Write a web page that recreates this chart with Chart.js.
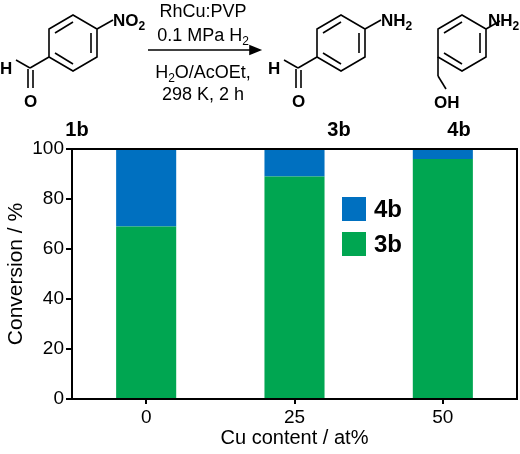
<!DOCTYPE html>
<html><head><meta charset="utf-8">
<script src="https://cdn.jsdelivr.net/npm/chart.js@4/dist/chart.umd.min.js"></script>
<style>
html,body{margin:0;padding:0;background:#fff;}
#wrap{position:relative;width:520px;height:454px;font-family:"Liberation Sans",Arial,sans-serif;}
#c{position:absolute;left:0;top:0;}
svg{position:absolute;left:0;top:0;}
.leg{position:absolute;font-weight:bold;font-size:24px;display:flex;align-items:center;}
.leg span{display:inline-block;width:24px;height:24px;margin-right:8px;}
</style></head>
<body><div id="wrap">
<canvas id="c" width="520" height="454"></canvas>
<svg width="520" height="140" font-family="Liberation Sans, Arial, sans-serif" stroke="#000" stroke-width="1.6" fill="none">
  <!-- 1b -->
  <polygon points="73,15 97,29 97,57 73,71 49,57 49,29"/>
  <line x1="55" y1="33" x2="73" y2="22"/><line x1="91" y1="33" x2="91" y2="53"/><line x1="73" y1="64" x2="55" y2="53"/>
  <line x1="97" y1="29" x2="113" y2="20"/>
  <line x1="49" y1="57" x2="30" y2="68"/><line x1="30" y1="68" x2="16" y2="60"/>
  <line x1="28" y1="69" x2="28" y2="88"/><line x1="33" y1="70" x2="33" y2="88"/>
  <!-- arrow -->
  <line x1="148" y1="50" x2="252" y2="50"/><polygon points="260,50 250,46 250,54" fill="#000"/>
  <!-- 3b -->
  <polygon points="341,15 365,29 365,57 341,71 317,57 317,29"/>
  <line x1="323" y1="33" x2="341" y2="22"/><line x1="359" y1="33" x2="359" y2="53"/><line x1="341" y1="64" x2="323" y2="53"/>
  <line x1="365" y1="29" x2="381" y2="20"/>
  <line x1="317" y1="57" x2="298" y2="68"/><line x1="298" y1="68" x2="284" y2="60"/>
  <line x1="296" y1="69" x2="296" y2="88"/><line x1="301" y1="70" x2="301" y2="88"/>
  <!-- 4b -->
  <polygon points="462,15 486,29 486,57 462,71 438,57 438,29"/>
  <line x1="444" y1="33" x2="462" y2="22"/><line x1="480" y1="33" x2="480" y2="53"/><line x1="462" y1="64" x2="444" y2="53"/>
  <line x1="486" y1="29" x2="500" y2="21"/>
  <line x1="438" y1="57" x2="438" y2="76"/><line x1="438" y1="76" x2="446" y2="89"/>
  <g stroke="none" fill="#000" font-size="18">
    <text x="203" y="17" text-anchor="middle">RhCu:PVP</text>
    <text x="203" y="41" text-anchor="middle">0.1 MPa H<tspan font-size="12" dy="4">2</tspan></text>
    <text x="203" y="78" text-anchor="middle">H<tspan font-size="12" dy="4">2</tspan><tspan dy="-4">O/AcOEt,</tspan></text>
    <text x="203" y="100" text-anchor="middle">298 K, 2 h</text>
  </g>
  <g stroke="none" fill="#000" font-size="17" font-weight="bold">
    <text x="113" y="26">NO<tspan font-size="12" dy="4">2</tspan></text>
    <text x="0" y="74">H</text><text x="24" y="107">O</text>
    <text x="381" y="26">NH<tspan font-size="12" dy="4">2</tspan></text>
    <text x="268" y="74">H</text><text x="292" y="107">O</text>
    <text x="488" y="26">NH<tspan font-size="12" dy="4">2</tspan></text>
    <text x="434" y="108">OH</text>
    <g font-size="20"><text x="77" y="136" text-anchor="middle">1b</text>
    <text x="339" y="136" text-anchor="middle">3b</text>
    <text x="459" y="136" text-anchor="middle">4b</text></g>
  </g>
</svg>
<div class="leg" style="left:342px;top:195px;"><span style="background:#0070C0"></span>4b</div>
<div class="leg" style="left:342px;top:230px;"><span style="background:#00A651"></span>3b</div>
</div>
<script>
const categories = ["0", "25", "50"];
const values3b = [69, 89, 96];
const values4b = [31, 11, 4];
const yTicks = [0, 20, 40, 60, 80, 100];

const frame = {id:'frame', afterDraw(ch){const a=ch.chartArea,c=ch.ctx;c.save();c.strokeStyle='#000';c.lineWidth=2;c.strokeRect(a.left,a.top,a.right-a.left,a.bottom-a.top);c.restore();}};
new Chart(document.getElementById('c'), {
  type:'bar',
  data:{labels:categories, datasets:[
    {label:'3b', data:values3b, backgroundColor:'#00A651', barPercentage:0.81, categoryPercentage:0.5},
    {label:'4b', data:values4b, backgroundColor:'#0070C0', barPercentage:0.81, categoryPercentage:0.5}
  ]},
  options:{
    responsive:false, animation:false, devicePixelRatio:1,
    layout:{padding:{top:149,right:3,left:0,bottom:0}},
    plugins:{legend:{display:false}, tooltip:{enabled:false}},
    scales:{
      x:{stacked:true,
        afterFit(s){s.height=55;},
        grid:{display:true,drawOnChartArea:false,offset:false,tickLength:5,color:'#000',lineWidth:2},
        border:{color:'#000',width:2},
        ticks:{color:'#000',font:{size:19,family:'Liberation Sans'},padding:2},
        title:{display:true,text:'Cu content / at%',color:'#000',font:{size:20,family:'Liberation Sans'},padding:{top:0}}},
      y:{stacked:true,min:0,max:100,
        afterFit(s){s.width=72;},
        afterBuildTicks(s){s.ticks=yTicks.map(v=>({value:v}));},
        grid:{drawOnChartArea:false,tickLength:6,color:'#000',lineWidth:2},
        border:{color:'#000',width:2},
        ticks:{color:'#000',font:{size:19,family:'Liberation Sans'},padding:2},
        title:{display:true,text:'Conversion / %',color:'#000',font:{size:21,family:'Liberation Sans'},padding:{bottom:0}}}
    }
  },
  plugins:[frame]
});
</script>
</body></html>
